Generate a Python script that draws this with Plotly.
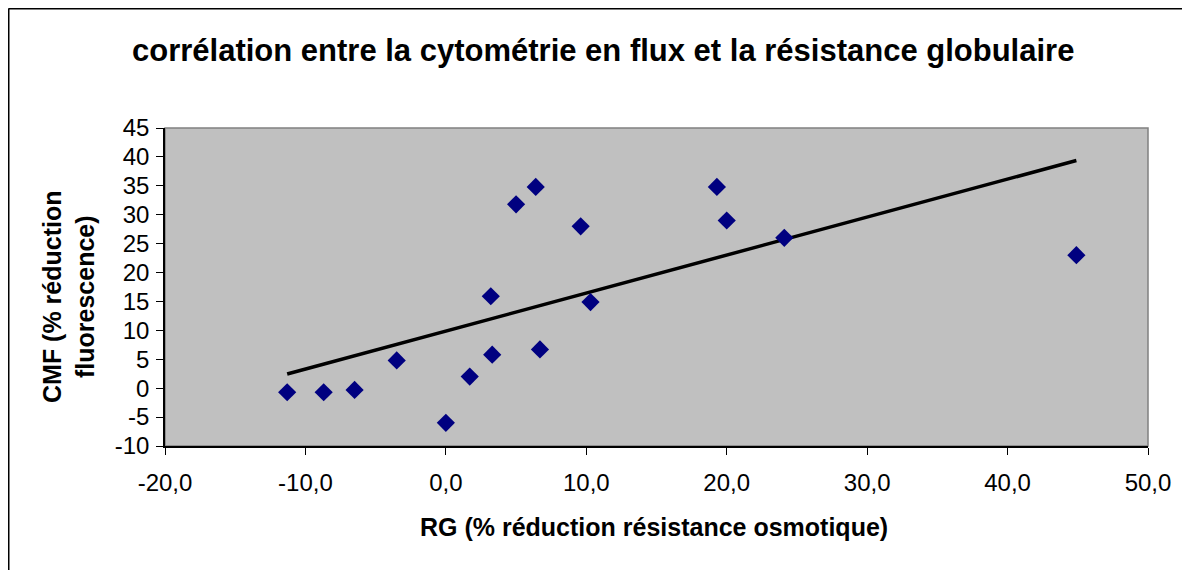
import numpy as np
import plotly.graph_objects as go

# Data
rg_x = [-11.3, -8.7, -6.5, -3.5, 0.0, 1.7, 3.2, 3.3, 5.0, 6.4, 6.7, 9.6, 10.3, 19.3, 20.0, 24.1, 44.9]
cmf_y = [-0.7, -0.7, -0.3, 4.8, -6.0, 2.0, 15.9, 5.8, 31.8, 34.8, 6.7, 28.0, 14.9, 34.8, 29.0, 26.0, 23.0]

x_tickvals = [-20, -10, 0, 10, 20, 30, 40, 50]
x_ticktext = ["-20,0", "-10,0", "0,0", "10,0", "20,0", "30,0", "40,0", "50,0"]
y_tickvals = [-10, -5, 0, 5, 10, 15, 20, 25, 30, 35, 40, 45]
y_ticktext = ["-10", "-5", "0", "5", "10", "15", "20", "25", "30", "35", "40", "45"]

title_text = "corrélation entre la cytométrie en flux et la résistance globulaire"
x_title = "RG (% réduction résistance osmotique)"
y_title = "CMF (% réduction<br>fluorescence)"

# Linear trend (least squares) over the data range
slope, intercept = np.polyfit(rg_x, cmf_y, 1)
tx = [min(rg_x), max(rg_x)]
ty = [slope * v + intercept for v in tx]

# page is offset by the 8px body margin
OFF = 8
W, H = 1190 - OFF, 570 - OFF
PL, PR, PT, PB = 165, 1148, 128, 446   # plot area in page pixels
L, T = PL - OFF, PT - OFF
R = W - (PR - OFF)
B = H - (PB - OFF)
pw, ph = W - L - R, H - T - B

def px(xp):
    return (xp - OFF - L) / pw

def py(yp):
    return (H - B - (yp - OFF)) / ph

fig = go.Figure()
fig.add_trace(go.Scatter(x=tx, y=ty, mode="lines",
                         line=dict(color="black", width=3.5), showlegend=False, hoverinfo="skip"))
fig.add_trace(go.Scatter(x=rg_x, y=cmf_y, mode="markers",
                         marker=dict(symbol="diamond", size=14, color="#000080"),
                         showlegend=False))

font_family = "Liberation Sans, Arial, sans-serif"

fig.update_layout(
    width=W, height=H,
    margin=dict(l=L, r=R, t=T, b=B, pad=0),
    paper_bgcolor="white",
    plot_bgcolor="#C0C0C0",
    font=dict(family=font_family, color="black", size=24),
    xaxis=dict(range=[-20, 50], tickvals=x_tickvals, ticktext=x_ticktext,
               showgrid=False, zeroline=False, showline=True, linecolor="black", linewidth=1.5,
               ticks="outside", ticklen=7, tickcolor="black", ticklabelstandoff=7,
               tickfont=dict(size=24)),
    yaxis=dict(range=[-10, 45], tickvals=y_tickvals, ticktext=y_ticktext,
               showgrid=False, zeroline=False, showline=True, linecolor="black", linewidth=1.5,
               ticks="outside", ticklen=7, tickcolor="black", ticklabelstandoff=2,
               tickfont=dict(size=24)),
    shapes=[
        dict(type="rect", xref="paper", yref="paper", x0=0, x1=1, y0=0, y1=1,
             line=dict(color="#808080", width=1.5), layer="below"),
        dict(type="line", xref="paper", yref="paper", x0=px(OFF + 0.5), x1=px(1200), y0=py(OFF + 0.5), y1=py(OFF + 0.5),
             line=dict(color="black", width=2)),
        dict(type="line", xref="paper", yref="paper", x0=px(OFF + 0.5), x1=px(OFF + 0.5), y0=py(OFF + 0.5), y1=py(580),
             line=dict(color="black", width=2)),
    ],
    annotations=[
        dict(text="<b>" + title_text + "</b>", xref="paper", yref="paper",
             x=px(603), y=py(50), xanchor="center", yanchor="middle", showarrow=False,
             font=dict(size=31)),
        dict(text="<b>" + x_title + "</b>", xref="paper", yref="paper",
             x=px(654), y=py(527), xanchor="center", yanchor="middle", showarrow=False,
             font=dict(size=25)),
        dict(text="<b>" + y_title + "</b>", xref="paper", yref="paper",
             x=px(68), y=py(297), xanchor="center", yanchor="middle", showarrow=False,
             textangle=-90, font=dict(size=25)),
    ],
)

fig.write_html("out.html")
